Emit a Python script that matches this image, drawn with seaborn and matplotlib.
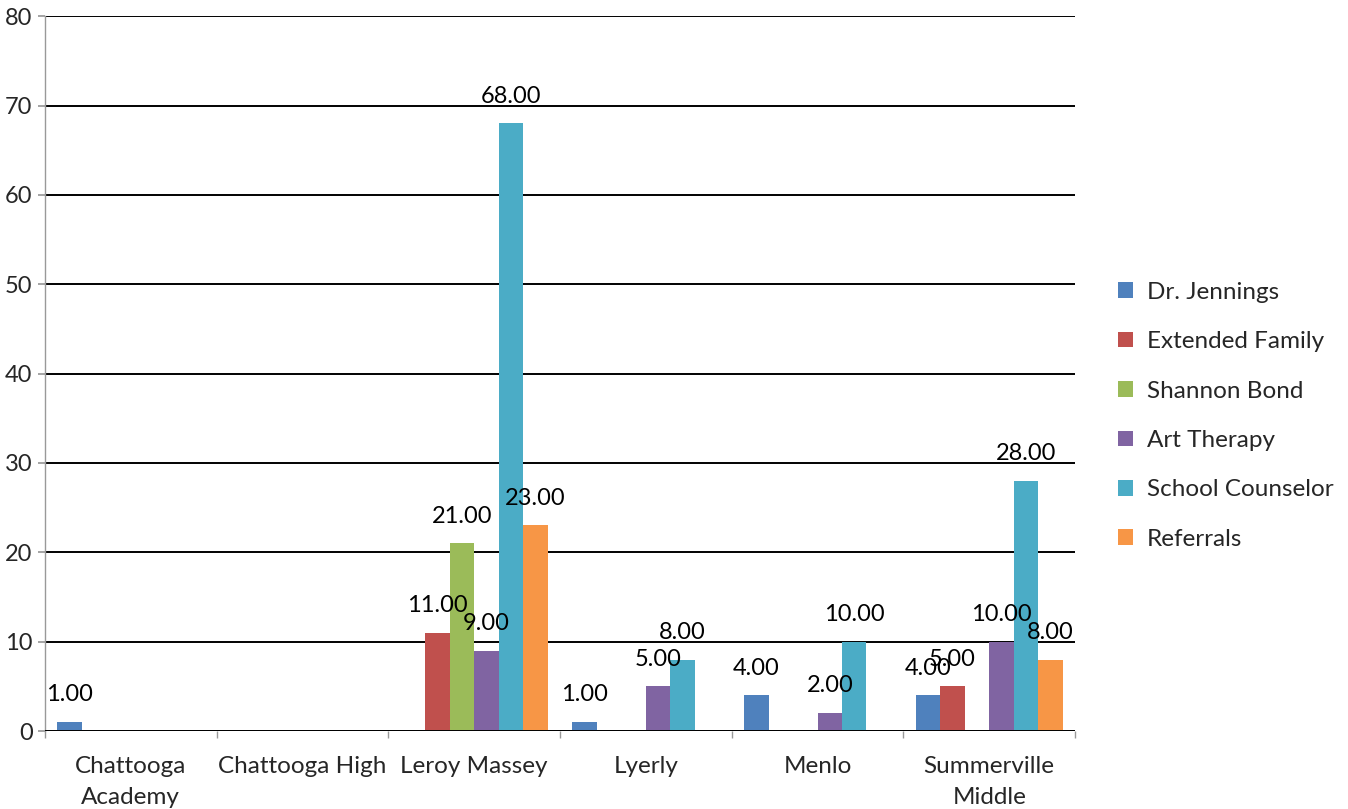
import matplotlib
matplotlib.use("Agg")
import matplotlib.pyplot as plt
import seaborn as sns
import pandas as pd
import numpy as np
from matplotlib.ticker import FixedLocator

categories = ["Chattooga\nAcademy", "Chattooga High", "Leroy Massey", "Lyerly", "Menlo", "Summerville\nMiddle"]
series = ["Dr. Jennings", "Extended Family", "Shannon Bond", "Art Therapy", "School Counselor", "Referrals"]
dr_jennings = [1, 0, 0, 1, 4, 4]
extended_family = [0, 0, 11, 0, 0, 5]
shannon_bond = [0, 0, 21, 0, 0, 0]
art_therapy = [0, 0, 9, 5, 2, 10]
school_counselor = [0, 0, 68, 8, 10, 28]
referrals = [0, 0, 23, 0, 0, 8]
colors = ["#4F81BD", "#C0504D", "#9BBB59", "#8064A2", "#4BACC6", "#F79646"]

values = [dr_jennings, extended_family, shannon_bond, art_therapy, school_counselor, referrals]
rows = []
for s, vals in zip(series, values):
    for c, v in zip(categories, vals):
        rows.append({"School": c, "Series": s, "Value": v})
df = pd.DataFrame(rows)

sns.set_theme(style="white")
plt.rcParams["font.family"] = ["Lato", "DejaVu Sans"]

fig = plt.figure(figsize=(13.48, 8.09), dpi=100)
ax = fig.add_axes([0.0334, 0.0964, 0.7641, 0.8836])

sns.barplot(data=df, x="School", y="Value", hue="Series", order=categories,
            hue_order=series, palette=colors, width=0.855, saturation=1,
            linewidth=0, edgecolor="none", ax=ax, legend=True)

for cont in ax.containers:
    labels = [f"{b.get_height():.2f}" if b.get_height() > 0 else "" for b in cont]
    ax.bar_label(cont, labels=labels, padding=12, fontsize=17, color="black")

ax.set_ylim(0, 80)
ax.set_xlim(-0.5, 5.5)
ax.set_yticks(np.arange(0, 81, 10))
ax.yaxis.grid(True, color="black", linewidth=1.4)
ax.set_axisbelow(True)
ax.set_xlabel("")
ax.set_ylabel("")
for sp in ["top", "right", "bottom"]:
    ax.spines[sp].set_visible(False)
ax.spines["left"].set_color("#999999")
ax.spines["left"].set_linewidth(1.0)
ax.tick_params(axis="y", which="major", left=True, length=5, color="#999999",
               labelsize=17, pad=4)
ax.tick_params(axis="x", which="major", length=0, labelsize=17.5, pad=18)
for t in ax.get_xticklabels():
    t.set_linespacing(1.6)
ax.xaxis.set_minor_locator(FixedLocator(np.arange(-0.5, 6.0, 1.0)))
ax.tick_params(axis="x", which="minor", bottom=True, length=5, color="#999999", width=1.0)
ax.axhline(0, color="black", linewidth=1.4, zorder=3)

handles, labs = ax.get_legend_handles_labels()
ax.legend(handles, labs, loc="center left", bbox_to_anchor=(1.02, 0.441), frameon=False,
          fontsize=17.5, handlelength=0.62, handleheight=0.62, handletextpad=0.6,
          labelspacing=1.17)

fig.savefig("out.png", dpi=100)
